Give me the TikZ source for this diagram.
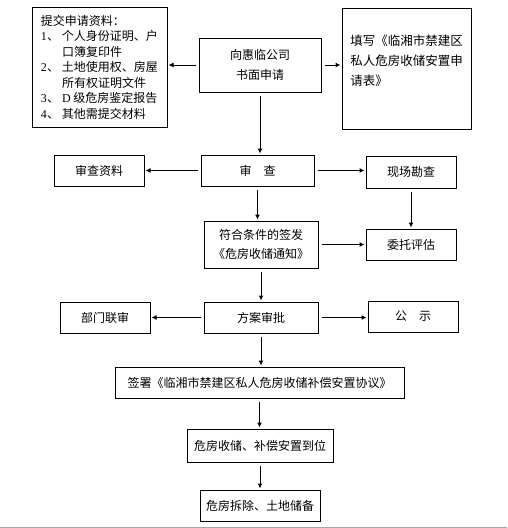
\documentclass[tikz,border=0pt]{standalone}
\usepackage{fontspec}
\setmainfont{Noto Sans CJK SC}
\newfontfamily\numfont{Liberation Serif}
\usetikzlibrary{arrows.meta}
\newcommand{\reqno}[1]{\makebox[21pt][l]{{\numfont #1}、}}

\begin{document}
\begin{tikzpicture}[
    x=1pt,y=-1pt,
    bx/.style  = {rectangle,draw=black,line width=1pt,align=center,inner sep=2pt,
                  font=\fontsize{12}{19}\selectfont},
    wh/.style 2 args = {minimum width=#1pt,minimum height=#2pt},
    ar/.style  = {-{Latex[length=5pt,width=5pt]},line width=1pt,
                  shorten <=3pt,shorten >=1pt},
  ]
  \useasboundingbox (0,0) rectangle (507,528);

  % top row
  \node[bx,wh={135}{120},align=left,font=\fontsize{12}{15.5}\selectfont] (req) at (99.5,67)
       {提交申请资料：\\
        \reqno{1}个人身份证明、户\\
        \hspace*{21pt}口簿复印件\\
        \reqno{2}土地使用权、房屋\\
        \hspace*{21pt}所有权证明文件\\
        \reqno{3}{\numfont D} 级危房鉴定报告\\
        \reqno{4}其他需提交材料};
  \node[bx,wh={122}{54},font=\fontsize{12}{20}\selectfont] (apply) at (260,65) {向惠临公司\\书面申请};
  \node[bx,wh={129}{121},align=left,font=\fontsize{12.5}{20}\selectfont] (form) at (406.5,68.5)
       {填写《临湘市禁建区\\私人危房收储安置申\\请表》\\[-3pt]~};

  % review rows
  \node[bx,wh={90}{31}]  (docs)   at (99,170.5)  {审查资料};
  \node[bx,wh={113}{31}] (review) at (257.5,170.5) {审\quad 查};
  \node[bx,wh={90}{32}]  (site)   at (411,172)   {现场勘查};
  \node[bx,wh={114}{47}] (notice) at (261,244.5) {符合条件的签发\\《危房收储通知》};
  \node[bx,wh={90}{31}]  (assess) at (411,244.5) {委托评估};
  \node[bx,wh={90}{31}]  (joint)  at (105,317.5) {部门联审};
  \node[bx,wh={114}{31}] (plan)   at (261,317.5) {方案审批};
  \node[bx,wh={90}{31}]  (public) at (413,316.5) {公\quad 示};

  % bottom column
  \node[bx,wh={289}{31}] (sign)   at (259.5,382.5) {签署《临湘市禁建区私人危房收储补偿安置协议》};
  \node[bx,wh={146}{33}] (settle) at (260,445.5) {危房收储、补偿安置到位};
  \node[bx,wh={120}{31}] (demol)  at (260,505.5) {危房拆除、土地储备};

  \foreach \a/\b in {apply/req,review/docs,plan/joint}
    \draw[ar] (\a.west) -- (\a.west -| \b.east);
  \foreach \a/\b in {apply/form,review/site,notice/assess,plan/public}
    \draw[ar] (\a.east) -- (\a.east -| \b.west);
  \foreach \a/\b in {apply/review,review/notice,notice/plan,site/assess,plan/sign,sign/settle,settle/demol}
    \draw[ar] (\a.south) -- (\a.south |- \b.north);

  \draw[gray!70,line width=1pt] (0,527) -- (507,527);

\end{tikzpicture}
\end{document}
